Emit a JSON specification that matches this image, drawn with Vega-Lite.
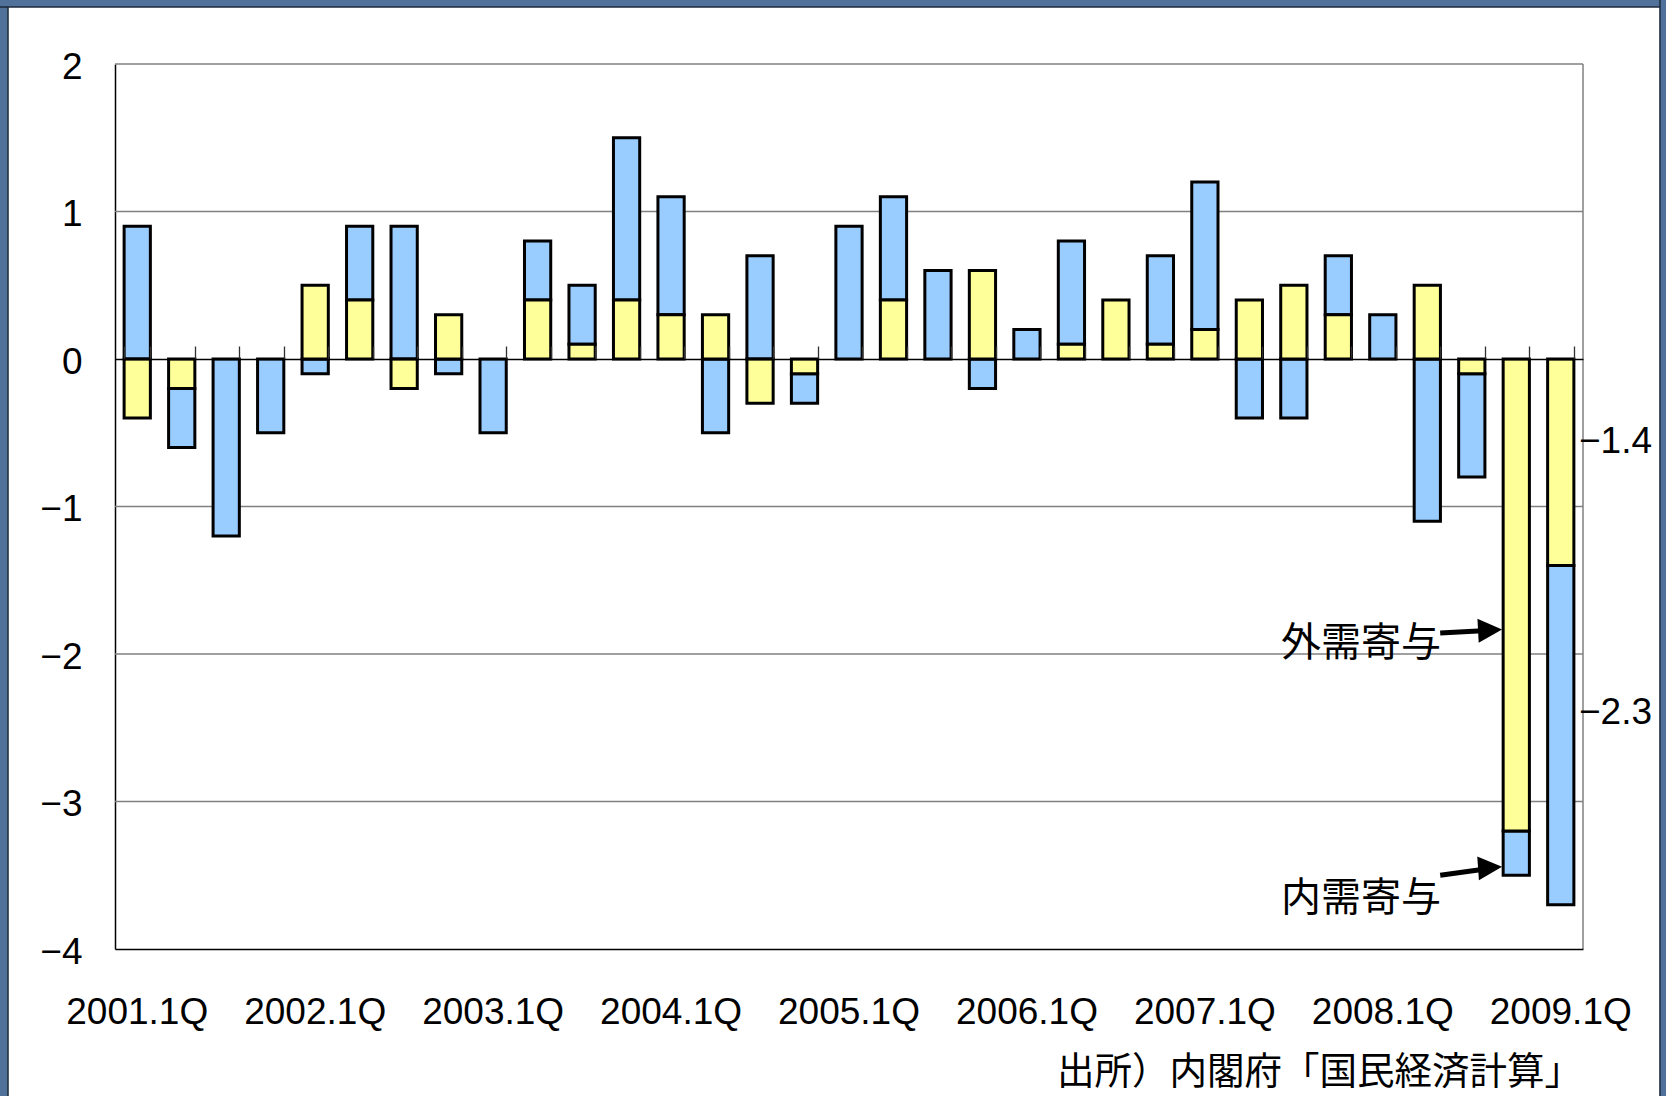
{
  "$schema": "https://vega.github.io/schema/vega-lite/v6.json",
  "width": 1468,
  "height": 885,
  "autosize": {"type": "none"},
  "padding": {"left": 115, "top": 64, "right": 83, "bottom": 147},
  "background": "white",
  "config": {
    "view": {"stroke": null},
    "font": "Liberation Sans",
    "axisY": {
      "grid": false, "ticks": false, "labelOverlap": false,
      "domain": true, "domainColor": "black", "domainWidth": 1.5,
      "labelFontSize": 37, "labelColor": "black", "labelPadding": 33, "labelOffset": 3, "zindex": 1
    }
  },
  "datasets": {
    "contrib": [
      {"quarter": "2001.1Q", "component": "内需寄与", "value": 0.9},
      {"quarter": "2001.1Q", "component": "外需寄与", "value": -0.4},
      {"quarter": "2001.2Q", "component": "内需寄与", "value": -0.4},
      {"quarter": "2001.2Q", "component": "外需寄与", "value": -0.2},
      {"quarter": "2001.3Q", "component": "内需寄与", "value": -1.2},
      {"quarter": "2001.4Q", "component": "内需寄与", "value": -0.5},
      {"quarter": "2002.1Q", "component": "内需寄与", "value": -0.1},
      {"quarter": "2002.1Q", "component": "外需寄与", "value": 0.5},
      {"quarter": "2002.2Q", "component": "内需寄与", "value": 0.5},
      {"quarter": "2002.2Q", "component": "外需寄与", "value": 0.4},
      {"quarter": "2002.3Q", "component": "内需寄与", "value": 0.9},
      {"quarter": "2002.3Q", "component": "外需寄与", "value": -0.2},
      {"quarter": "2002.4Q", "component": "内需寄与", "value": -0.1},
      {"quarter": "2002.4Q", "component": "外需寄与", "value": 0.3},
      {"quarter": "2003.1Q", "component": "内需寄与", "value": -0.5},
      {"quarter": "2003.2Q", "component": "内需寄与", "value": 0.4},
      {"quarter": "2003.2Q", "component": "外需寄与", "value": 0.4},
      {"quarter": "2003.3Q", "component": "内需寄与", "value": 0.4},
      {"quarter": "2003.3Q", "component": "外需寄与", "value": 0.1},
      {"quarter": "2003.4Q", "component": "内需寄与", "value": 1.1},
      {"quarter": "2003.4Q", "component": "外需寄与", "value": 0.4},
      {"quarter": "2004.1Q", "component": "内需寄与", "value": 0.8},
      {"quarter": "2004.1Q", "component": "外需寄与", "value": 0.3},
      {"quarter": "2004.2Q", "component": "内需寄与", "value": -0.5},
      {"quarter": "2004.2Q", "component": "外需寄与", "value": 0.3},
      {"quarter": "2004.3Q", "component": "内需寄与", "value": 0.7},
      {"quarter": "2004.3Q", "component": "外需寄与", "value": -0.3},
      {"quarter": "2004.4Q", "component": "内需寄与", "value": -0.2},
      {"quarter": "2004.4Q", "component": "外需寄与", "value": -0.1},
      {"quarter": "2005.1Q", "component": "内需寄与", "value": 0.9},
      {"quarter": "2005.2Q", "component": "内需寄与", "value": 0.7},
      {"quarter": "2005.2Q", "component": "外需寄与", "value": 0.4},
      {"quarter": "2005.3Q", "component": "内需寄与", "value": 0.6},
      {"quarter": "2005.4Q", "component": "内需寄与", "value": -0.2},
      {"quarter": "2005.4Q", "component": "外需寄与", "value": 0.6},
      {"quarter": "2006.1Q", "component": "内需寄与", "value": 0.2},
      {"quarter": "2006.2Q", "component": "内需寄与", "value": 0.7},
      {"quarter": "2006.2Q", "component": "外需寄与", "value": 0.1},
      {"quarter": "2006.3Q", "component": "外需寄与", "value": 0.4},
      {"quarter": "2006.4Q", "component": "内需寄与", "value": 0.6},
      {"quarter": "2006.4Q", "component": "外需寄与", "value": 0.1},
      {"quarter": "2007.1Q", "component": "内需寄与", "value": 1.0},
      {"quarter": "2007.1Q", "component": "外需寄与", "value": 0.2},
      {"quarter": "2007.2Q", "component": "内需寄与", "value": -0.4},
      {"quarter": "2007.2Q", "component": "外需寄与", "value": 0.4},
      {"quarter": "2007.3Q", "component": "内需寄与", "value": -0.4},
      {"quarter": "2007.3Q", "component": "外需寄与", "value": 0.5},
      {"quarter": "2007.4Q", "component": "内需寄与", "value": 0.4},
      {"quarter": "2007.4Q", "component": "外需寄与", "value": 0.3},
      {"quarter": "2008.1Q", "component": "内需寄与", "value": 0.3},
      {"quarter": "2008.2Q", "component": "内需寄与", "value": -1.1},
      {"quarter": "2008.2Q", "component": "外需寄与", "value": 0.5},
      {"quarter": "2008.3Q", "component": "内需寄与", "value": -0.7},
      {"quarter": "2008.3Q", "component": "外需寄与", "value": -0.1},
      {"quarter": "2008.4Q", "component": "内需寄与", "value": -0.3},
      {"quarter": "2008.4Q", "component": "外需寄与", "value": -3.2},
      {"quarter": "2009.1Q", "component": "内需寄与", "value": -2.3},
      {"quarter": "2009.1Q", "component": "外需寄与", "value": -1.4}
    ],
    "grid": [{"g": -3}, {"g": -2}, {"g": -1}, {"g": 1}, {"g": 2}],
    "one": [{}]
  },
  "resolve": {"scale": {"x": "independent"}},
  "layer": [
    {
      "data": {"name": "one"},
      "mark": {"type": "rect", "fill": "#50729a", "stroke": "#1c2a3c", "strokeWidth": 1.5},
      "encoding": {
        "x": {"datum": -3.0, "type": "quantitative", "scale": {"domain": [0, 33], "nice": false, "zero": false}, "axis": null},
        "x2": {"datum": -2.405},
        "y": {"datum": 2.6, "type": "quantitative", "scale": {"domain": [-4, 2], "nice": false, "zero": false}, "axis": {"title": null, "values": [-4, -3, -2, -1, 0, 1, 2], "labelOverlap": false}},
        "y2": {"datum": -5.2}
      }
    },
    {
      "data": {"name": "one"},
      "mark": {"type": "rect", "fill": "#50729a", "stroke": "#1c2a3c", "strokeWidth": 1.5},
      "encoding": {
        "x": {"datum": -3.0, "type": "quantitative", "scale": {"domain": [0, 33], "nice": false, "zero": false}, "axis": null},
        "x2": {"datum": 36},
        "y": {"datum": 2.6, "type": "quantitative", "scale": {"domain": [-4, 2], "nice": false, "zero": false}, "axis": {"title": null, "values": [-4, -3, -2, -1, 0, 1, 2], "labelOverlap": false}},
        "y2": {"datum": 2.386}
      }
    },
    {
      "data": {"name": "one"},
      "mark": {"type": "rect", "fill": "#50729a", "stroke": "#1c2a3c", "strokeWidth": 1.5},
      "encoding": {
        "x": {"datum": 34.73, "type": "quantitative", "scale": {"domain": [0, 33], "nice": false, "zero": false}, "axis": null},
        "x2": {"datum": 36},
        "y": {"datum": 2.6, "type": "quantitative", "scale": {"domain": [-4, 2], "nice": false, "zero": false}, "axis": {"title": null, "values": [-4, -3, -2, -1, 0, 1, 2], "labelOverlap": false}},
        "y2": {"datum": -5.2}
      }
    },
    {
      "data": {"name": "grid"},
      "mark": {"type": "rule", "stroke": "#808080", "strokeWidth": 1.3},
      "encoding": {
        "y": {"field": "g", "type": "quantitative", "title": null, "scale": {"domain": [-4, 2], "nice": false, "zero": false}, "axis": {"title": null, "values": [-4, -3, -2, -1, 0, 1, 2], "labelOverlap": false}}
      }
    },
    {
      "data": {"name": "one"},
      "mark": {"type": "rule", "stroke": "#808080", "strokeWidth": 1.5},
      "encoding": {
        "x": {"datum": 33, "type": "quantitative", "scale": {"domain": [0, 33], "nice": false, "zero": false}, "axis": null},
        "y": {"datum": -4, "type": "quantitative", "scale": {"domain": [-4, 2], "nice": false, "zero": false}, "axis": {"title": null, "values": [-4, -3, -2, -1, 0, 1, 2], "labelOverlap": false}},
        "y2": {"datum": 2}
      }
    },
    {
      "data": {"name": "contrib"},
      "mark": {"type": "bar", "stroke": "black", "strokeWidth": 3},
      "encoding": {
        "x": {
          "field": "quarter", "type": "ordinal",
          "scale": {"type": "band", "paddingInner": 0.41, "paddingOuter": 0.205},
          "axis": {
            "orient": "bottom", "title": null, "grid": false, "ticks": false,
            "values": ["2001.1Q", "2002.1Q", "2003.1Q", "2004.1Q", "2005.1Q", "2006.1Q", "2007.1Q", "2008.1Q", "2009.1Q"],
            "domain": true, "domainColor": "black", "domainWidth": 1.5,
            "labelAngle": 0, "labelFontSize": 37, "labelColor": "black", "labelPadding": 45, "zindex": 1
          }
        },
        "y": {
          "field": "value", "type": "quantitative", "stack": "zero", "title": null,
          "scale": {"domain": [-4, 2], "nice": false, "zero": false},
          "axis": {"title": null, "values": [-4, -3, -2, -1, 0, 1, 2], "labelOverlap": false}
        },
        "color": {
          "field": "component", "type": "nominal",
          "scale": {"domain": ["外需寄与", "内需寄与"], "range": ["#FFFF99", "#99CCFF"]},
          "legend": null
        },
        "order": {"field": "component", "sort": "descending"}
      }
    },
    {
      "data": {"name": "contrib"},
      "mark": {"type": "point", "opacity": 0},
      "encoding": {
        "x": {
          "field": "quarter", "type": "ordinal",
          "scale": {"type": "band", "paddingInner": 0.41, "paddingOuter": 0.205},
          "axis": {
            "orient": "top", "offset": -295, "title": null, "grid": false, "labels": false,
            "ticks": true, "tickBand": "extent", "tickSize": 13, "tickColor": "#303030", "tickWidth": 1.3,
            "domain": true, "domainColor": "black", "domainWidth": 1.5, "zindex": 1
          }
        },
        "y": {"datum": 0, "type": "quantitative", "scale": {"domain": [-4, 2], "nice": false, "zero": false}, "axis": {"title": null, "values": [-4, -3, -2, -1, 0, 1, 2], "labelOverlap": false}}
      }
    },
    {
      "data": {"name": "one"},
      "mark": {"type": "rule", "stroke": "black", "strokeWidth": 5},
      "encoding": {
        "x": {"datum": 29.79, "type": "quantitative", "scale": {"domain": [0, 33], "nice": false, "zero": false}, "axis": null},
        "x2": {"datum": 30.85},
        "y": {"datum": -1.857, "type": "quantitative", "scale": {"domain": [-4, 2], "nice": false, "zero": false}, "axis": {"title": null, "values": [-4, -3, -2, -1, 0, 1, 2], "labelOverlap": false}},
        "y2": {"datum": -1.84}
      }
    },
    {
      "data": {"name": "one"},
      "mark": {"type": "point", "shape": "M0,0 L-2,-1 L-2,1 Z", "size": 576, "filled": true, "color": "black", "opacity": 1, "angle": -3},
      "encoding": {
        "x": {"datum": 31.18, "type": "quantitative", "scale": {"domain": [0, 33], "nice": false, "zero": false}, "axis": null},
        "y": {"datum": -1.834, "type": "quantitative", "scale": {"domain": [-4, 2], "nice": false, "zero": false}, "axis": {"title": null, "values": [-4, -3, -2, -1, 0, 1, 2], "labelOverlap": false}}
      }
    },
    {
      "data": {"name": "one"},
      "mark": {"type": "rule", "stroke": "black", "strokeWidth": 5},
      "encoding": {
        "x": {"datum": 29.79, "type": "quantitative", "scale": {"domain": [0, 33], "nice": false, "zero": false}, "axis": null},
        "x2": {"datum": 30.85},
        "y": {"datum": -3.5, "type": "quantitative", "scale": {"domain": [-4, 2], "nice": false, "zero": false}, "axis": {"title": null, "values": [-4, -3, -2, -1, 0, 1, 2], "labelOverlap": false}},
        "y2": {"datum": -3.456}
      }
    },
    {
      "data": {"name": "one"},
      "mark": {"type": "point", "shape": "M0,0 L-2,-1 L-2,1 Z", "size": 576, "filled": true, "color": "black", "opacity": 1, "angle": -4},
      "encoding": {
        "x": {"datum": 31.18, "type": "quantitative", "scale": {"domain": [0, 33], "nice": false, "zero": false}, "axis": null},
        "y": {"datum": -3.442, "type": "quantitative", "scale": {"domain": [-4, 2], "nice": false, "zero": false}, "axis": {"title": null, "values": [-4, -3, -2, -1, 0, 1, 2], "labelOverlap": false}}
      }
    },
    {
      "data": {"name": "one"},
      "mark": {"type": "text", "text": "外需寄与", "font": "Noto Sans CJK JP", "fontSize": 40, "color": "black", "align": "center", "baseline": "middle"},
      "encoding": {
        "x": {"datum": 28.01, "type": "quantitative", "scale": {"domain": [0, 33], "nice": false, "zero": false}, "axis": null},
        "y": {"datum": -1.934, "type": "quantitative", "scale": {"domain": [-4, 2], "nice": false, "zero": false}, "axis": {"title": null, "values": [-4, -3, -2, -1, 0, 1, 2], "labelOverlap": false}}
      }
    },
    {
      "data": {"name": "one"},
      "mark": {"type": "text", "text": "内需寄与", "font": "Noto Sans CJK JP", "fontSize": 40, "color": "black", "align": "center", "baseline": "middle"},
      "encoding": {
        "x": {"datum": 28.01, "type": "quantitative", "scale": {"domain": [0, 33], "nice": false, "zero": false}, "axis": null},
        "y": {"datum": -3.663, "type": "quantitative", "scale": {"domain": [-4, 2], "nice": false, "zero": false}, "axis": {"title": null, "values": [-4, -3, -2, -1, 0, 1, 2], "labelOverlap": false}}
      }
    },
    {
      "data": {"name": "one"},
      "mark": {"type": "text", "text": "−1.4", "fontSize": 37, "color": "black", "align": "left", "baseline": "middle"},
      "encoding": {
        "x": {"datum": 32.91, "type": "quantitative", "scale": {"domain": [0, 33], "nice": false, "zero": false}, "axis": null},
        "y": {"datum": -0.56, "type": "quantitative", "scale": {"domain": [-4, 2], "nice": false, "zero": false}, "axis": {"title": null, "values": [-4, -3, -2, -1, 0, 1, 2], "labelOverlap": false}}
      }
    },
    {
      "data": {"name": "one"},
      "mark": {"type": "text", "text": "−2.3", "fontSize": 37, "color": "black", "align": "left", "baseline": "middle"},
      "encoding": {
        "x": {"datum": 32.91, "type": "quantitative", "scale": {"domain": [0, 33], "nice": false, "zero": false}, "axis": null},
        "y": {"datum": -2.4, "type": "quantitative", "scale": {"domain": [-4, 2], "nice": false, "zero": false}, "axis": {"title": null, "values": [-4, -3, -2, -1, 0, 1, 2], "labelOverlap": false}}
      }
    },
    {
      "data": {"name": "one"},
      "mark": {"type": "text", "text": "出所）内閣府「国民経済計算」", "font": "Noto Sans CJK JP", "fontSize": 37.5, "color": "black", "align": "right", "baseline": "middle"},
      "encoding": {
        "x": {"datum": 32.98, "type": "quantitative", "scale": {"domain": [0, 33], "nice": false, "zero": false}, "axis": null},
        "y": {"datum": -4.842, "type": "quantitative", "scale": {"domain": [-4, 2], "nice": false, "zero": false}, "axis": {"title": null, "values": [-4, -3, -2, -1, 0, 1, 2], "labelOverlap": false}}
      }
    }
  ]
}
